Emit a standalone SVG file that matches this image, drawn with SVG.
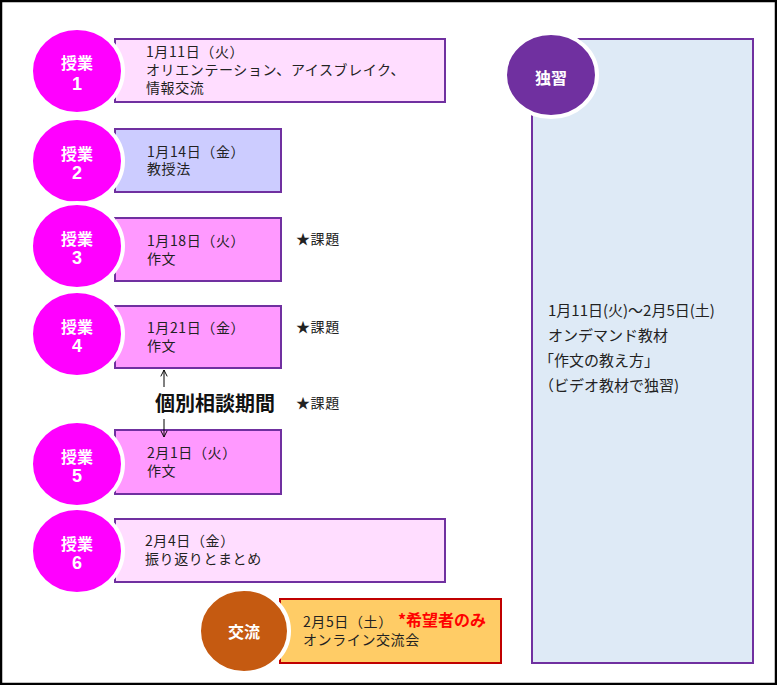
<svg xmlns="http://www.w3.org/2000/svg" width="777" height="685" viewBox="0 0 777 685">
<style>
.box{stroke:#7030A0;stroke-width:2}
.c{stroke:#fff;stroke-width:4}
.ct{font-family:"Liberation Sans","Noto Sans CJK JP",sans-serif;font-weight:bold;fill:#fff;text-anchor:middle;font-size:16px}
.n{font-size:18px}
.t{font-family:"Noto Sans CJK JP",sans-serif;font-size:14px;fill:#222;letter-spacing:0.6px}
.t2{font-family:"Noto Sans CJK JP",sans-serif;font-size:15px;fill:#222}
.conn{stroke:#000;stroke-width:1;fill:none}
</style>
<defs>
<marker id="ah" viewBox="0 0 10 10" refX="9" refY="5" markerWidth="8" markerHeight="8" orient="auto" markerUnits="userSpaceOnUse">
<path d="M1,1 L9,5 L1,9" fill="none" stroke="#000" stroke-width="1.2"/>
</marker>
</defs>
<rect x="0" y="0" width="777" height="685" fill="#fff"/>
<rect x="1" y="1" width="775" height="683" fill="none" stroke="#000" stroke-width="2.5"/>

<g id="selfstudy">
<rect class="box" x="532" y="39" width="221" height="624" fill="#DEEAF6"/>
<ellipse class="c" cx="551" cy="75" rx="46" ry="42" fill="#7030A0"/>
<text class="ct" x="551" y="84">独習</text>
<text class="t2" x="548" y="316">1月11日(火)～2月5日(土)<tspan x="548" dy="25">オンデマンド教材</tspan><tspan x="539" dy="25">「作文の教え方」</tspan><tspan x="539" dy="25">（ビデオ教材で独習)</tspan></text>
</g>

<g id="class1">
<rect class="box" x="115" y="39" width="330" height="63" fill="#FFDDFF"/>
<ellipse class="c" cx="77" cy="71" rx="46" ry="43" fill="#FF00FF"/>
<text class="ct" x="77" y="69">授業<tspan class="n" x="77" dy="21">1</tspan></text>
<text class="t" x="146" y="57">1月11日（火）<tspan x="146" dy="18">オリエンテーション、アイスブレイク、</tspan><tspan x="146" dy="18">情報交流</tspan></text>
</g>

<g id="class2">
<rect class="box" x="115" y="129" width="166" height="63" fill="#CCCCFF"/>
<ellipse class="c" cx="77" cy="161" rx="46" ry="43" fill="#FF00FF"/>
<text class="ct" x="77" y="160">授業<tspan class="n" x="77" dy="19">2</tspan></text>
<text class="t" x="147" y="157">1月14日（金）<tspan x="147" dy="17">教授法</tspan></text>
</g>

<g id="class3">
<rect class="box" x="115" y="218" width="166" height="63" fill="#FF99FF"/>
<ellipse class="c" cx="77" cy="246" rx="46" ry="43" fill="#FF00FF"/>
<text class="ct" x="77" y="245">授業<tspan class="n" x="77" dy="19">3</tspan></text>
<text class="t" x="147" y="246">1月18日（火）<tspan x="147" dy="18">作文</tspan></text>
<text class="t" x="296" y="244">★課題</text>
</g>

<g id="class4">
<rect class="box" x="115" y="306" width="166" height="62" fill="#FF99FF"/>
<ellipse class="c" cx="77" cy="334" rx="46" ry="43" fill="#FF00FF"/>
<text class="ct" x="77" y="333">授業<tspan class="n" x="77" dy="19">4</tspan></text>
<text class="t" x="147" y="333">1月21日（金）<tspan x="147" dy="18">作文</tspan></text>
<text class="t" x="296" y="332">★課題</text>
</g>

<g id="consult">
<text x="155" y="411" font-family="Noto Sans CJK JP,sans-serif" font-size="20" font-weight="bold" fill="#111">個別相談期間</text>
<text class="t" x="296" y="408">★課題</text>
</g>

<g id="class5">
<rect class="box" x="115" y="430" width="166" height="64" fill="#FF99FF"/>
<ellipse class="c" cx="77" cy="464" rx="46" ry="43" fill="#FF00FF"/>
<text class="ct" x="77" y="463">授業<tspan class="n" x="77" dy="19">5</tspan></text>
<text class="t" x="147" y="458">2月1日（火）<tspan x="147" dy="18">作文</tspan></text>
</g>

<g id="class6">
<rect class="box" x="115" y="519" width="330" height="63" fill="#FFDDFF"/>
<ellipse class="c" cx="77" cy="551" rx="46" ry="43" fill="#FF00FF"/>
<text class="ct" x="77" y="550">授業<tspan class="n" x="77" dy="19">6</tspan></text>
<text class="t" x="145" y="546">2月4日（金）<tspan x="145" dy="18">振り返りとまとめ</tspan></text>
</g>

<g id="exchange">
<rect x="280" y="599" width="221" height="64" fill="#FFCC66" stroke="#C00000" stroke-width="2"/>
<ellipse class="c" cx="244" cy="631" rx="45" ry="42" fill="#C55A11"/>
<text class="ct" x="244" y="638">交流</text>
<text class="t" x="303" y="627">2月5日（土）<tspan x="303" dy="18">オンライン交流会</tspan></text>
<text x="398" y="626" font-family="Noto Sans CJK JP,sans-serif" font-size="16" font-weight="bold" fill="#FF0000">*希望者のみ</text>
</g>

<g id="connectors">
<line class="conn" x1="164" y1="387" x2="164" y2="370" marker-end="url(#ah)"/>
<line class="conn" x1="164" y1="419" x2="164" y2="437" marker-end="url(#ah)"/>
</g>
</svg>
